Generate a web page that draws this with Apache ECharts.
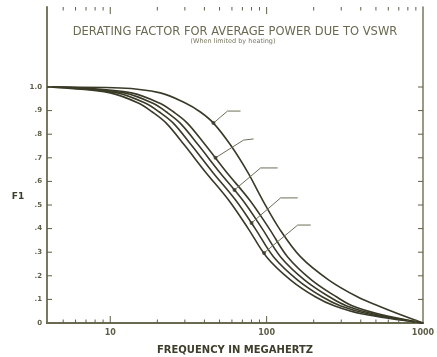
<!DOCTYPE html>
<html>
<head>
<meta charset="utf-8">
<script src="https://cdn.jsdelivr.net/npm/echarts@6.0.0/dist/echarts.min.js"></script>
<style>
  html, body { margin: 0; padding: 0; background: #fff; }
  #chart { width: 437px; height: 357px; }
</style>
</head>
<body>
<div id="chart"></div>
<script>
// derating factor F1; every curve is read at the same F1 levels
const levels = [1, 0.996, 0.975, 0.932, 0.894, 0.847, 0.754, 0.64, 0.521, 0.398, 0.28, 0.182, 0.11, 0.072, 0.038, 0]
const freq9 = [3.94, 5.15, 10.0, 15.1, 18.6, 22.8, 29.8, 40.6, 57.1, 76.6, 100, 142.5, 206, 272.8, 412.4, 1000]
const freq6_18 = [3.94, 5.54, 11.08, 16.7, 20.6, 25.3, 33.0, 45.0, 63.3, 84.9, 110.9, 158, 228, 298, 450.5, 1000]
const freq3_18 = [3.94, 6.05, 12.29, 18.6, 22.9, 28.0, 36.6, 49.9, 70.2, 94.1, 122.9, 175.1, 253, 325.6, 485, 1000]
const freq1_58 = [3.94, 6.61, 13.63, 20.6, 25.4, 31.1, 40.6, 55.3, 77.8, 104.4, 136.3, 194.2, 281, 355.8, 522, 1000]
const freq7_8 = [3.94, 11.6, 20.9, 30.2, 37.7, 45.7, 58.8, 75.5, 94.2, 121.1, 165, 250, 383, 520, 700, 1000]

const curveNames = ['(7/8)', '(1-5/8)', '(3-1/8)', '(6-1/8)', '(9)']
const curveFreqs = [freq7_8, freq1_58, freq3_18, freq6_18, freq9]

// leader lines: dot on the curve, elbow, end of the horizontal run
const leaderStart = [[45.7, 0.847], [47.1, 0.70], [62.3, 0.564], [80.1, 0.424], [96.3, 0.297]]
const leaderElbow = [[56.2, 0.898], [71.2, 0.775], [91.5, 0.657], [122.9, 0.53], [158, 0.415]]
const leaderEnd = [[68.1, 0.898], [82.5, 0.78], [117.6, 0.657], [158, 0.53], [191.4, 0.415]]
const labelGap = [4, 4, 10, 4, 6]

const xMin = 3.94
const xMax = 1000
const yMax = 1.339
const minorTicks = [5, 6, 7, 8, 9, 20, 30, 40, 50, 60, 70, 80, 90, 200, 300, 400, 500, 600, 700, 800, 900]
const majorTicks = [10, 100]
const xLabels = [10, 100, 1000]
const yTicks = [0.1, 0.2, 0.3, 0.4, 0.5, 0.6, 0.7, 0.8, 0.9, 1.0]
const yLabels = [0, 0.1, 0.2, 0.3, 0.4, 0.5, 0.6, 0.7, 0.8, 0.9, 1.0]

const ink = '#3a3a28'
const grey = '#5e5e48'
const font = 'DejaVu Sans'

var chart = echarts.init(document.getElementById('chart'), null, { renderer: 'canvas' })

// short tick marks drawn through the axis scales (custom ticks on a log axis)
function tickSeries(values, side, len) {
  return {
    type: 'custom',
    silent: true,
    clip: false,
    z: 6,
    data: values.map(function (v) {
      return side === 'bottom' || side === 'top' ? [v, 0] : [xMin, v]
    }),
    renderItem: function (params, api) {
      var p, shape
      if (side === 'bottom') {
        p = api.coord([api.value(0), 0])
        shape = { x1: p[0], y1: p[1], x2: p[0], y2: p[1] - len }
      } else if (side === 'top') {
        p = api.coord([api.value(0), yMax])
        shape = { x1: p[0], y1: p[1], x2: p[0], y2: p[1] + len }
      } else if (side === 'left') {
        p = api.coord([xMin, api.value(1)])
        shape = { x1: p[0], y1: p[1], x2: p[0] + len, y2: p[1] }
      } else {
        p = api.coord([xMax, api.value(1)])
        shape = { x1: p[0], y1: p[1], x2: p[0] - len, y2: p[1] }
      }
      return { type: 'line', shape: shape, style: { stroke: grey, lineWidth: 1 } }
    }
  }
}

var series = []
curveFreqs.forEach(function (fr, i) {
  series.push({
    name: curveNames[i],
    type: 'line',
    data: fr.map(function (f, k) { return [f, levels[k]] }),
    smooth: 0.35,
    symbol: 'none',
    lineStyle: { color: ink, width: 1.6 },
    z: 3
  })
})
curveNames.forEach(function (n, i) {
  series.push({
    type: 'line',
    data: [
      leaderStart[i],
      leaderElbow[i],
      {
        value: leaderEnd[i],
        label: {
          show: true, position: 'right', distance: labelGap[i], formatter: n,
          color: grey, fontSize: 7.5, fontFamily: font, fontWeight: 'bold'
        }
      }
    ],
    symbol: 'none',
    lineStyle: { color: '#6e6e58', width: 1 },
    z: 4,
    silent: true
  })
})
series.push({
  type: 'scatter',
  data: leaderStart,
  symbolSize: 4,
  itemStyle: { color: ink },
  z: 5
})
series.push(tickSeries(minorTicks, 'bottom', 3.5))
series.push(tickSeries(majorTicks, 'bottom', 7))
series.push(tickSeries(minorTicks, 'top', 3.5))
series.push(tickSeries(majorTicks, 'top', 7))
series.push(tickSeries(yTicks, 'left', 5))
series.push(tickSeries(yTicks, 'right', 5))

var option = {
  backgroundColor: '#fff',
  animation: false,
  grid: { left: 47, right: 14, top: 7, bottom: 34, outerBoundsMode: 'none' },
  xAxis: [
    {
      type: 'log',
      logBase: 10,
      min: xMin,
      max: xMax,
      position: 'bottom',
      axisLine: { show: true, lineStyle: { color: '#46462f', width: 2 } },
      axisTick: { show: false },
      axisLabel: {
        show: true, customValues: xLabels, color: grey, fontSize: 8, fontFamily: font,
        fontWeight: 'bold', margin: 6,
        formatter: function (v) { return String(v) }
      },
      splitLine: { show: false },
      name: 'FREQUENCY IN MEGAHERTZ',
      nameLocation: 'middle',
      nameGap: 22,
      nameTextStyle: { color: '#3e3e2c', fontSize: 10, fontWeight: 'bold', fontFamily: font }
    },
    {
      type: 'log',
      logBase: 10,
      min: xMin,
      max: xMax,
      position: 'top',
      axisLine: { show: true, lineStyle: { color: '#77775d', width: 1.5 } },
      axisTick: { show: false },
      axisLabel: { show: false },
      splitLine: { show: false }
    }
  ],
  yAxis: [
    {
      type: 'value',
      min: 0,
      max: yMax,
      position: 'left',
      axisLine: { show: true, lineStyle: { color: '#6a6a50', width: 1.8 } },
      axisTick: { show: false },
      axisLabel: {
        show: true, customValues: yLabels, margin: 5, color: grey, fontSize: 7,
        fontFamily: font, fontWeight: 'bold',
        formatter: function (v) {
          if (v === 0) return '0'
          if (v >= 1) return '1.0'
          return '.' + Math.round(v * 10)
        }
      },
      splitLine: { show: false }
    },
    {
      type: 'value',
      min: 0,
      max: yMax,
      position: 'right',
      axisLine: { show: true, lineStyle: { color: '#77775d', width: 1.5 } },
      axisTick: { show: false },
      axisLabel: { show: false },
      splitLine: { show: false }
    }
  ],
  graphic: [
    {
      type: 'text', x: 235, y: 32,
      style: {
        text: 'DERATING FACTOR FOR AVERAGE POWER DUE TO VSWR', fill: '#6a6a52',
        font: '11.5px "DejaVu Sans"', textAlign: 'center', textVerticalAlign: 'middle'
      }
    },
    {
      type: 'text', x: 233, y: 41,
      style: {
        text: '(When limited by heating)', fill: '#77775f',
        font: '6.5px "DejaVu Sans"', textAlign: 'center', textVerticalAlign: 'middle'
      }
    },
    {
      type: 'text', x: 18, y: 197,
      style: {
        text: 'F1', fill: '#3e3e2c',
        font: 'bold 9px "DejaVu Sans"', textAlign: 'center', textVerticalAlign: 'middle'
      }
    }
  ],
  series: series
}

chart.setOption(option)
</script>
</body>
</html>
